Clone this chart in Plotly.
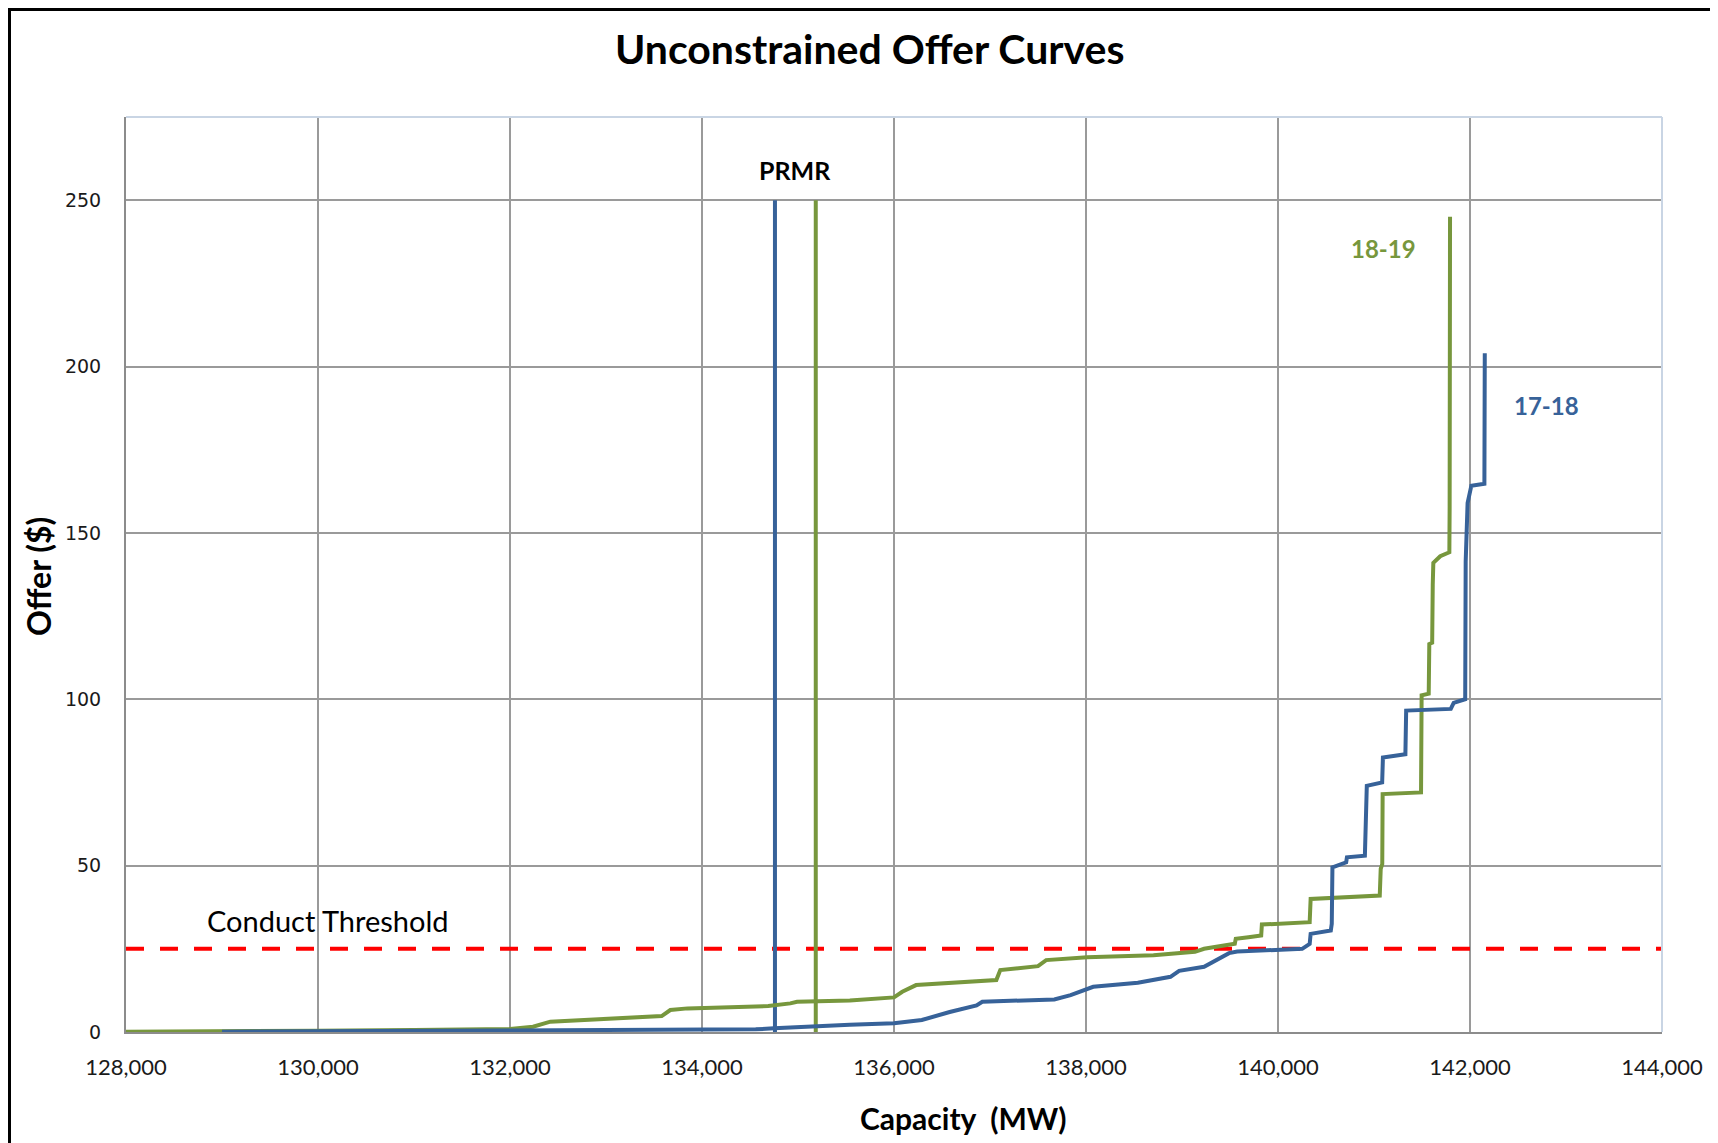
import plotly.graph_objects as go

# ---- data ----
cap_1718 = [129000, 130000, 131000, 132000, 133000, 134000, 134560, 134750, 135160, 135540,
            136000, 136290, 136580, 136860, 136920, 137670, 137840, 138075, 138540, 138880,
            138970, 139230, 139490, 139575, 140252, 140330, 140340, 140550, 140560, 140567,
            140710, 140718, 140905, 140910, 140925, 141085, 141093, 141327, 141335, 141800,
            141830, 141950, 141955, 141975, 142014, 142150, 142154]
offer_1718 = [0.1, 0.2, 0.3, 0.35, 0.4, 0.5, 0.8, 1.1, 1.8, 2.2,
              2.6, 3.6, 6.0, 8.0, 9.1, 9.8, 11.1, 13.6, 14.8, 16.6,
              18.4, 19.6, 23.7, 24.2, 25.0, 26.5, 29.5, 30.5, 32.5, 49.5,
              51.0, 52.5, 53.0, 59.5, 74.0, 75.0, 82.5, 83.5, 96.6, 97.1,
              98.9, 100.0, 141.3, 159.0, 164.2, 164.8, 204.0]

cap_1819 = [128000, 129000, 130000, 131000, 132000, 132240, 132420, 133580, 133670, 133850,
            134690, 134920, 134990, 135540, 136000, 136086, 136230, 137066, 137107, 137500,
            137585, 138012, 138703, 139135, 139230, 139550, 139560, 139692, 139825, 139832,
            140330, 140340, 141060, 141070, 141086, 141090, 141490, 141496, 141570, 141576,
            141606, 141612, 141618, 141690, 141785, 141788, 141792]
offer_1819 = [0.1, 0.15, 0.4, 0.6, 0.9, 1.6, 3.1, 4.8, 6.6, 7.1,
              7.8, 8.6, 9.1, 9.5, 10.4, 12.1, 14.1, 15.6, 18.6, 19.8,
              21.6, 22.5, 23.1, 24.1, 25.0, 26.5, 28.0, 28.5, 29.0, 32.3,
              33.0, 40.0, 41.0, 49.0, 50.5, 71.5, 72.0, 101.2, 101.7, 116.6,
              117.0, 134.4, 141.0, 143.0, 144.2, 158.0, 245.0]

prmr_1718 = 134760
prmr_1819 = 135185
prmr_top = 250
conduct_threshold = 25
x_range = [128000, 144000]
y_range = [0, 275]
x_ticks = list(range(128000, 144001, 2000))
y_ticks = [0, 50, 100, 150, 200, 250]

BLUE = "#376299"
GREEN = "#77973D"
RED = "#FF0000"
GRID = "#9a9a9a"
FONT = "Lato"

fig = go.Figure()

fig.add_trace(go.Scatter(x=x_range, y=[conduct_threshold] * 2, mode="lines",
                         line=dict(color=RED, width=4, dash="18px,16px"), showlegend=False))
fig.add_trace(go.Scatter(x=[prmr_1718, prmr_1718], y=[0, prmr_top], mode="lines",
                         line=dict(color=BLUE, width=4), showlegend=False))
fig.add_trace(go.Scatter(x=[prmr_1819, prmr_1819], y=[0, prmr_top], mode="lines",
                         line=dict(color=GREEN, width=4), showlegend=False))
fig.add_trace(go.Scatter(x=cap_1819, y=offer_1819, mode="lines", name="18-19",
                         line=dict(color=GREEN, width=4), showlegend=False))
fig.add_trace(go.Scatter(x=cap_1718, y=offer_1718, mode="lines", name="17-18",
                         line=dict(color=BLUE, width=4), showlegend=False))

W, H = 1718, 1143
OX, OY = 8, 8  # page body offset
L, T = 118, 109
pw, ph = 1536, 915
R = W - L - pw
B = H - T - ph


def px(x):
    return (x - OX - L) / pw


def py(y):
    return (T + ph + OY - y) / ph


annotations = [
    dict(text="<b>Unconstrained Offer Curves</b>", x=px(870), y=py(48), xref="paper", yref="paper",
         showarrow=False, xanchor="center", yanchor="middle", font=dict(family=FONT, size=41, color="#000")),
    dict(text="<b>Capacity  (MW)</b>", x=px(963), y=py(1118), xref="paper", yref="paper",
         showarrow=False, xanchor="center", yanchor="middle", font=dict(family=FONT, size=30, color="#000")),
    dict(text="<b>Offer ($)</b>", x=px(38), y=py(577), xref="paper", yref="paper", textangle=-90,
         showarrow=False, xanchor="center", yanchor="middle", font=dict(family=FONT, size=32, color="#000")),
    dict(text="<b>PRMR</b>", x=(prmr_1718 + prmr_1819) / 2, y=259, xref="x", yref="y",
         showarrow=False, xanchor="center", yanchor="middle", font=dict(family=FONT, size=25, color="#000")),
    dict(text="<b>18-19</b>", x=141100, y=235.6, xref="x", yref="y",
         showarrow=False, xanchor="center", yanchor="middle", font=dict(family=FONT, size=24, color=GREEN)),
    dict(text="<b>17-18</b>", x=142798, y=188.3, xref="x", yref="y",
         showarrow=False, xanchor="center", yanchor="middle", font=dict(family=FONT, size=24, color=BLUE)),
    dict(text="Conduct Threshold", x=128819, y=33.4, xref="x", yref="y",
         showarrow=False, xanchor="left", yanchor="middle", font=dict(family=FONT, size=29, color="#000")),
]

shapes = [
    dict(type="line", xref="paper", yref="paper", x0=0, x1=1, y0=1, y1=1,
         line=dict(color="#c9d5e4", width=2)),
    dict(type="line", xref="paper", yref="paper", x0=1, x1=1, y0=0, y1=1,
         line=dict(color="#c9d5e4", width=2)),
    # outer chart border (figure-pixel based, cut at right/bottom as in the reference)
    dict(type="rect", xref="paper", yref="paper",
         x0=(1.5 - L) / pw, x1=(W + 20 - L) / pw,
         y0=(T + ph - (H + 20)) / ph, y1=(T + ph - 1.5) / ph,
         line=dict(color="#000", width=3), fillcolor="rgba(0,0,0,0)"),
]

fig.update_layout(
    width=W, height=H,
    margin=dict(l=L, r=R, t=T, b=B, pad=0),
    paper_bgcolor="white", plot_bgcolor="white",
    annotations=annotations, shapes=shapes,
    showlegend=False,
)
fig.update_xaxes(range=x_range, tickvals=x_ticks, tickformat=",d", showgrid=True,
                 gridcolor=GRID, gridwidth=1.5, showline=True, linecolor="#8c8c8c", linewidth=2,
                 ticks="", ticklabelstandoff=15, zeroline=False,
                 tickfont=dict(family=FONT, size=22, color="#1a1a1a"))
fig.update_yaxes(range=y_range, tickvals=y_ticks, showgrid=True,
                 gridcolor=GRID, gridwidth=1.5, showline=True, linecolor="#8c8c8c", linewidth=2,
                 ticks="", ticklabelstandoff=19, zeroline=False,
                 tickfont=dict(family="DejaVu Sans", size=19, color="#1a1a1a"))

fig.write_html("out.html")
